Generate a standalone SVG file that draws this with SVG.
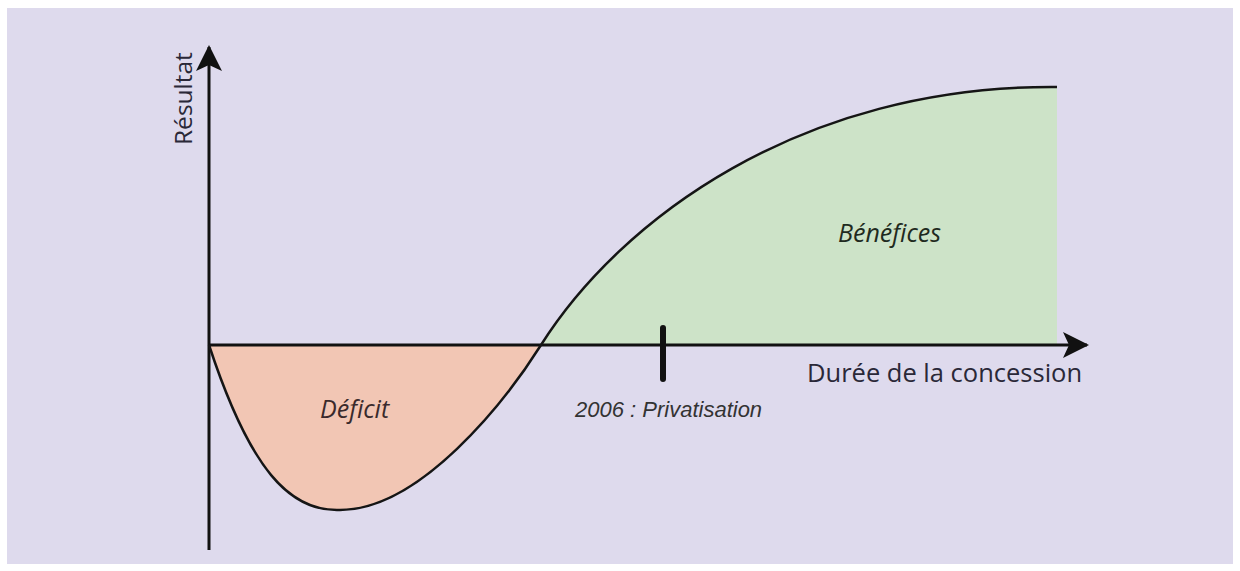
<svg xmlns="http://www.w3.org/2000/svg" width="1240" height="571" viewBox="0 0 1240 571">
  <defs>
    <style>
      .axis { stroke: #111; stroke-width: 3; fill: none; }
      .curve { stroke: #151515; stroke-width: 2.5; fill: none; }
      .lbl { font-family: "Open Sans", "Noto Sans", sans-serif; fill: #2a2838; }
      .ital { font-family: "Open Sans", "Noto Sans", sans-serif; font-style: italic; }
    </style>
    <marker id="arrow" viewBox="0 0 26 26" refX="24" refY="13" markerWidth="26" markerHeight="26" markerUnits="userSpaceOnUse" orient="auto">
      <path d="M0,0 L26,13 L0,26 L6,13 Z" fill="#111"/>
    </marker>
  </defs>
  <rect x="0" y="0" width="1240" height="571" fill="#ffffff"/>
  <rect x="7" y="8" width="1226" height="556" fill="#dedaed"/>

  <g id="benefices-area">
    <path d="M541,345 C620,220 800,85 1057,87 L1057,345 Z" fill="#cde3c8"/>
  </g>
  <g id="deficit-area">
    <path d="M209,345 C250,470 290,512 340,510 C420,510 505,402 541,345 Z" fill="#f2c6b4"/>
  </g>

  <g id="connectors">
    <line class="axis" x1="209" y1="550" x2="209" y2="47" marker-end="url(#arrow)"/>
    <line class="axis" x1="209" y1="345" x2="1087" y2="345" marker-end="url(#arrow)"/>
    <path class="curve" d="M209,345 C250,470 290,512 340,510 C420,510 505,402 541,345 C620,220 800,85 1057,87"/>
    <line x1="663" y1="328" x2="663" y2="379" stroke="#111" stroke-width="6" stroke-linecap="round"/>
  </g>

  <g id="label-resultat">
    <text class="lbl" x="0" y="0" font-size="24.5" transform="translate(192,145) rotate(-90)">Résultat</text>
  </g>
  <g id="label-duree">
    <text class="lbl" x="807" y="382" font-size="25.5">Durée de la concession</text>
  </g>
  <g id="label-deficit">
    <text class="ital" x="320" y="418" font-size="25" fill="#3a2a2c">Déficit</text>
  </g>
  <g id="label-benefices">
    <text class="ital" x="838" y="242" font-size="25" fill="#1f2a20">Bénéfices</text>
  </g>
  <g id="label-privatisation">
    <text x="575" y="417" font-family="Liberation Sans, Arial, sans-serif" font-style="italic" font-size="22" fill="#333">2006 : Privatisation</text>
  </g>
</svg>
